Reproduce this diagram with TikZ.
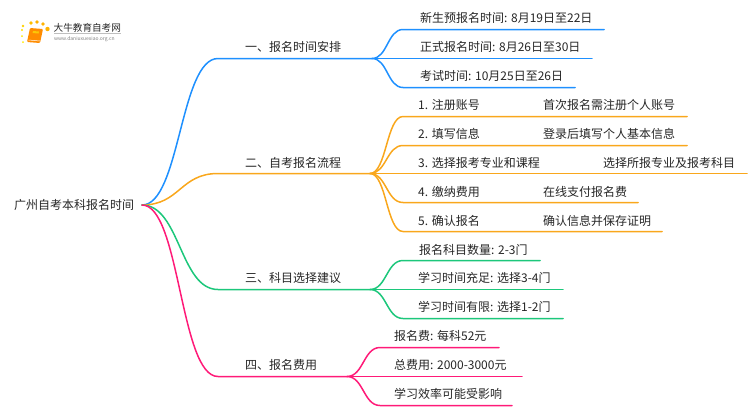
\documentclass[tikz,border=0pt]{standalone}
\usepackage{fontspec}
\setmainfont{Noto Sans CJK SC}
\usetikzlibrary{calc}
\definecolor{bluelink}{HTML}{1E90FF}
\definecolor{orangelink}{HTML}{F9A71C}
\definecolor{greenlink}{HTML}{1CC77B}
\definecolor{pinklink}{HTML}{FF1A78}
\definecolor{inktext}{HTML}{262626}
\tikzset{
	label/.style={anchor=base west,inner sep=0pt,text=inktext,font=\fontsize{12}{14}\selectfont},
	link/.style={line width=1.5pt,line cap=round},
	branch/.style={to path={let \p1=(\tikztostart),\p2=(\tikztotarget) in .. controls (\x1/2+\x2/2,\y1) and (\x1/2+\x2/2,\y2) .. (\tikztotarget)}}
}
\begin{document}
\begin{tikzpicture}[x=1pt,y=-1pt]
	\useasboundingbox (0,0) rectangle (750,410);
	% logo
	\foreach \dotx/\doty/\dotr/\dotc in {23/26/1.3/35,31/23/1.8/50,37/22/1.8/60,43/24/1.8/60,47.5/29/2.2/60,22/30/1.1/25,22/36/1/20,23/42/1/15}
		\fill[orange!\dotc!yellow] (\dotx,\doty) circle (\dotr);
	\fill[orange!90!yellow,rounded corners=1pt] (30,28) -- (43,29) -- (40,43) -- (27,42) -- cycle;
	\fill[yellow!60!orange] (33,31) -- (39,31.5) -- (38.5,33.5) -- (32.5,33) -- cycle;
	\draw[white,line width=.5pt] (28.5,40) -- (40,41);
	\node[label,font=\fontsize{9.6}{11}\selectfont] (logotitle) at (53.5,31) {大牛教育自考网};
	\draw[gray!50,line width=.4pt] (54,33) -- (121,33);
	\node[label,text=gray,font=\fontsize{5}{6}\selectfont] (logourl) at (54,40.5) {www.daniuxuexiao.org.cn};
	% main topic
	\node[label] (root) at (14,209.5) {广州自考本科报名时间};
	\coordinate (rootout) at (142,205);
	% first level
	\coordinate (a) at (218,58.5);
	\coordinate (ahub) at (372,58.5);
	\coordinate (b) at (218,173.5);
	\coordinate (bhub) at (370,173.5);
	\coordinate (c) at (218,289.5);
	\coordinate (chub) at (370,289.5);
	\coordinate (d) at (218,376.5);
	\coordinate (dhub) at (347,376.5);
	\node[label] (atext) at (245,51) {一、报名时间安排};
	\node[label] (btext) at (245,167) {二、自考报名流程};
	\node[label] (ctext) at (245,282.5) {三、科目选择建议};
	\node[label] (dtext) at (245,369.5) {四、报名费用};
	% leaves of the first branch
	\node[label] (a1) at (420,22.5) {新生预报名时间: 8月19日至22日};
	\node[label] (a2) at (420,51.5) {正式报名时间: 8月26日至30日};
	\node[label] (a3) at (420,80.5) {考试时间: 10月25日至26日};
	\coordinate (a1s) at (403,29.5);
	\coordinate (a1e) at (604,29.5);
	\coordinate (a2e) at (592,58.5);
	\coordinate (a3s) at (403,87.5);
	\coordinate (a3e) at (575,87.5);
	% leaves of the second branch
	\node[label] (b1) at (418,109.5) {1. 注册账号};
	\node[label] (b1n) at (543,109.5) {首次报名需注册个人账号};
	\node[label] (b2) at (418,138.5) {2. 填写信息};
	\node[label] (b2n) at (543,138.5) {登录后填写个人基本信息};
	\node[label] (b3) at (418,167) {3. 选择报考专业和课程};
	\node[label] (b3n) at (603,167) {选择所报专业及报考科目};
	\node[label] (b4) at (418,196) {4. 缴纳费用};
	\node[label] (b4n) at (543,196) {在线支付报名费};
	\node[label] (b5) at (418,225) {5. 确认报名};
	\node[label] (b5n) at (543,225) {确认信息并保存证明};
	\coordinate (b1s) at (403,116.5);
	\coordinate (b1e) at (687,116.5);
	\coordinate (b2s) at (403,145.5);
	\coordinate (b2e) at (687,145.5);
	\coordinate (b3e) at (747,173.5);
	\coordinate (b4s) at (403,202.5);
	\coordinate (b4e) at (638,202.5);
	\coordinate (b5s) at (403,231.5);
	\coordinate (b5e) at (662,231.5);
	% leaves of the third branch
	\node[label] (c1) at (419,254) {报名科目数量: 2-3门};
	\node[label] (c2) at (418,282.5) {学习时间充足: 选择3-4门};
	\node[label] (c3) at (418,311.5) {学习时间有限: 选择1-2门};
	\coordinate (c1s) at (403,260.5);
	\coordinate (c1e) at (540,260.5);
	\coordinate (c2e) at (563,289.5);
	\coordinate (c3s) at (403,318.5);
	\coordinate (c3e) at (563,318.5);
	% leaves of the fourth branch
	\node[label] (d1) at (394,340.5) {报名费: 每科52元};
	\node[label] (d2) at (394,369.5) {总费用: 2000-3000元};
	\node[label] (d3) at (394,398.5) {学习效率可能受影响};
	\coordinate (d1s) at (380,347.5);
	\coordinate (d1e) at (499,347.5);
	\coordinate (d2e) at (522,376.5);
	\coordinate (d3s) at (380,405.5);
	\coordinate (d3e) at (512,405.5);
	% connectors
	\draw[link,bluelink] (rootout) to[branch] (a) -- (ahub);
	\draw[link,bluelink] (ahub) to[branch] (a1s) -- (a1e);
	\draw[link,bluelink] (ahub) -- (a2e);
	\draw[link,bluelink] (ahub) to[branch] (a3s) -- (a3e);
	\draw[link,orangelink] (rootout) to[branch] (b) -- (bhub);
	\draw[link,orangelink] (bhub) to[branch] (b1s) -- (b1e);
	\draw[link,orangelink] (bhub) to[branch] (b2s) -- (b2e);
	\draw[link,orangelink] (bhub) -- (b3e);
	\draw[link,orangelink] (bhub) to[branch] (b4s) -- (b4e);
	\draw[link,orangelink] (bhub) to[branch] (b5s) -- (b5e);
	\draw[link,greenlink] (rootout) to[branch] (c) -- (chub);
	\draw[link,greenlink] (chub) to[branch] (c1s) -- (c1e);
	\draw[link,greenlink] (chub) -- (c2e);
	\draw[link,greenlink] (chub) to[branch] (c3s) -- (c3e);
	\draw[link,pinklink] (rootout) to[branch] (d) -- (dhub);
	\draw[link,pinklink] (dhub) to[branch] (d1s) -- (d1e);
	\draw[link,pinklink] (dhub) -- (d2e);
	\draw[link,pinklink] (dhub) to[branch] (d3s) -- (d3e);
\end{tikzpicture}
\end{document}
